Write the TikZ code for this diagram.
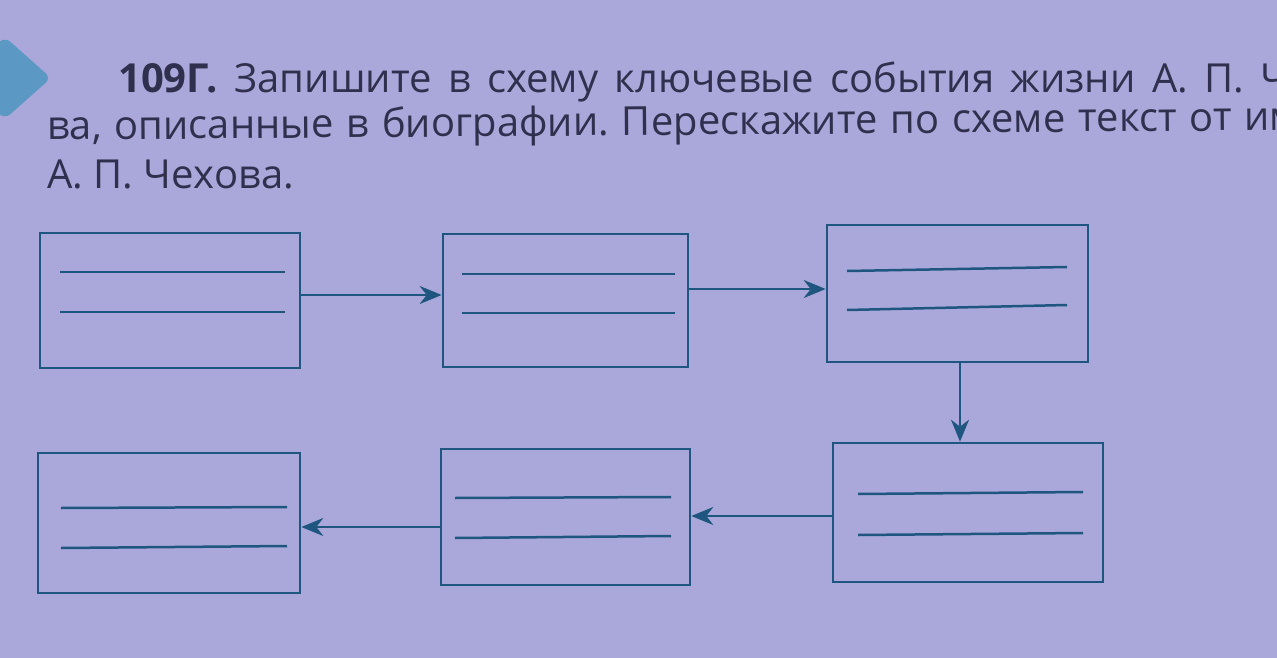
\documentclass[tikz,border=0pt]{standalone}
\usepackage{fontspec}
\setmainfont{Open Sans}
\usetikzlibrary{arrows.meta}
\definecolor{paper}{RGB}{170,168,218}
\definecolor{ink}{RGB}{48,48,78}
\definecolor{boxc}{RGB}{30,86,128}
\definecolor{markc}{RGB}{92,152,196}
\tikzset{
  evbox/.style={draw=boxc, line width=2.6pt, inner sep=0pt},
  wline/.style={draw=boxc, line width=2.5pt},
  arr/.style={draw=boxc, line width=2.5pt, -{Stealth[length=22pt,width=18pt,inset=7pt]}},
  ttl/.style={anchor=base west, inner sep=0pt, text=ink, font=\fontsize{40}{48}\selectfont}
}
\frenchspacing
\begin{document}
\begin{tikzpicture}[x=1pt,y=-1pt]
\useasboundingbox (0,0) rectangle (1277,658);
\clip (0,0) rectangle (1277,658);
\fill[paper] (0,0) rectangle (1277,658);
% marker
\fill[markc, rounded corners=7pt] (-41,78) -- (5,37) -- (51,78) -- (5,119) -- cycle;
% title
\node[ttl] (t1) at (118,93) {\frenchspacing\spaceskip=0.3em plus 3em minus 0.1em\hbox to 1170pt{\textbf{109Г.} Запишите в схему ключевые события жизни А. П. Ч}};
\node[ttl, rotate=0.45] (t2) at (47,140) {\frenchspacing\spaceskip=0.3em plus 3em minus 0.1em\hbox to 1252pt{ва, описанные в биографии. Перескажите по схеме текст от им}};
\node[ttl] (t3) at (47,189) {\frenchspacing А. П. Чехова.};
% boxes
\node[evbox, minimum width=260pt, minimum height=135pt] (b1) at (170,300.5) {};
\node[evbox, minimum width=245pt, minimum height=133pt] (b2) at (565.5,300.5) {};
\node[evbox, minimum width=261pt, minimum height=137pt] (b3) at (957.5,293.5) {};
\node[evbox, minimum width=270pt, minimum height=139pt] (b6) at (968,512.5) {};
\node[evbox, minimum width=249pt, minimum height=136pt] (b5) at (565.5,517) {};
\node[evbox, minimum width=262pt, minimum height=140pt] (b4) at (169,523) {};
% writing lines
\draw[wline] (60,272) -- (285,272) (60,312) -- (285,312);
\draw[wline] (462,274) -- (675,274) (462,313) -- (675,313);
\draw[wline] (847,271) -- (1067,267) (847,310) -- (1067,305);
\draw[wline] (858,494) -- (1083,492) (858,535) -- (1083,533);
\draw[wline] (455,498) -- (671,497) (455,538) -- (671,536);
\draw[wline] (61,508) -- (287,507) (61,548) -- (287,546);
% connectors
\draw[arr] ([yshift=5.5pt]b1.east) -- ([yshift=5.5pt]b1.east -| b2.west);
\draw[arr] ([yshift=11.5pt]b2.east) -- ([yshift=11.5pt]b2.east -| b3.west);
\draw[arr] ([xshift=2.5pt]b3.south) -- ([xshift=2.5pt]b3.south |- b6.north);
\draw[arr] ([yshift=-3.5pt]b6.west) -- ([yshift=-3.5pt]b6.west -| b5.east);
\draw[arr] ([yshift=-10pt]b5.west) -- ([yshift=-10pt]b5.west -| b4.east);
\end{tikzpicture}
\end{document}
